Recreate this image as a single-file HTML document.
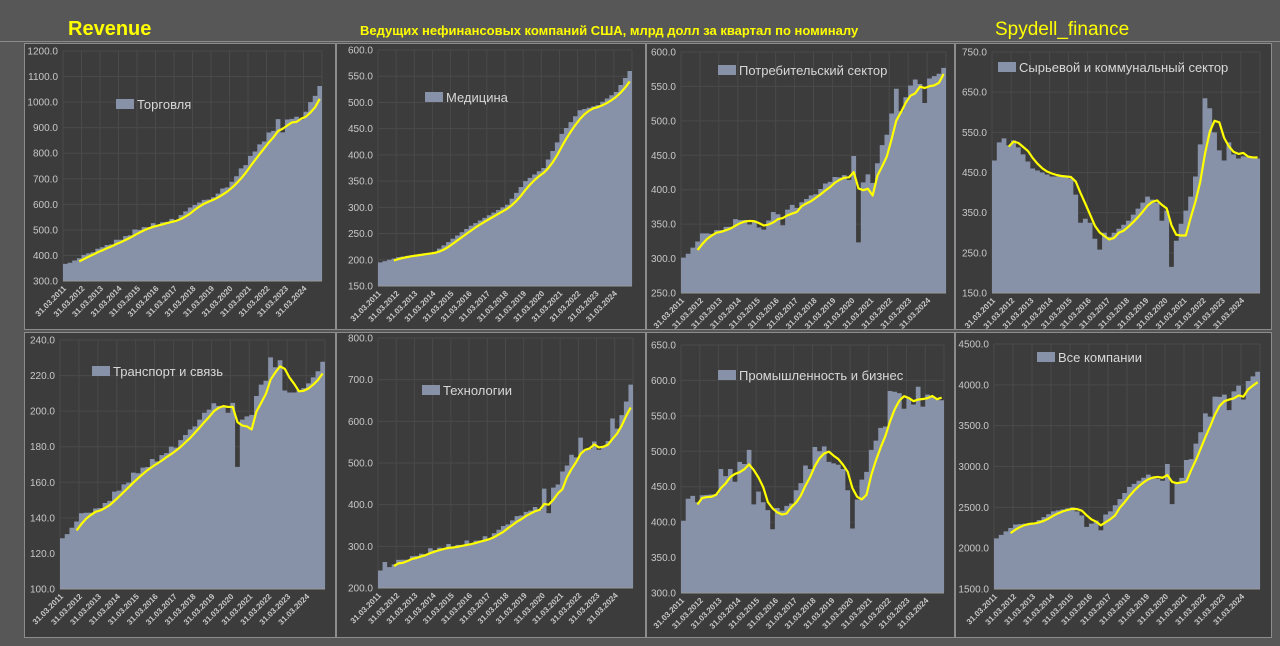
<!DOCTYPE html>
<html><head><meta charset="utf-8"><style>
html,body{margin:0;padding:0;background:#575757;width:1280px;height:646px;overflow:hidden}
svg{display:block}
</style></head><body>
<svg id="s" width="1280" height="646" xmlns="http://www.w3.org/2000/svg" font-family="'Liberation Sans','DejaVu Sans',sans-serif">
<rect width="1280" height="646" fill="#575757"/>
<line x1="0" y1="41.5" x2="1280" y2="41.5" stroke="#8a8a8a" stroke-width="1"/>
<text x="68" y="35" fill="#ffff00" font-size="20" font-weight="bold">Revenue</text>
<text x="360" y="35" fill="#ffff00" font-size="13" font-weight="bold">Ведущих нефинансовых компаний США, млрд долл за квартал по номиналу</text>
<text x="995" y="35" fill="#ffff00" font-size="19">Spydell_finance</text>
</svg>
<script>
const S=document.getElementById('s');const NS='http://www.w3.org/2000/svg';
function el(t,a,txt){const e=document.createElementNS(NS,t);for(const k in a)e.setAttribute(k,a[k]);if(txt!=null)e.textContent=txt;S.appendChild(e);return e;}
function build(pts,ov){const d=[];const idx=[0,4,8,12,16,20,24,28,32,36,40,44,48,52,55];
for(let i=0;i<56;i++){let j=0;while(j<idx.length-2&&i>idx[j+1])j++;const t=(i-idx[j])/(idx[j+1]-idx[j]);d.push(pts[j]+(pts[j+1]-pts[j])*t);}
for(const k in ov)d[k]=ov[k];return d;}
function noise(d,amp){return d.map((v,i)=>v+amp*((i%4==3)?1:(i%4==1?-0.5:0.2))*Math.sin(i*1.7+1)*1);}
const P=[
{box:[24,43,336,330],x0:63,x1:322,yt:51,yb:281,max:1200,min:300,step:100,leg:[116,104,'Торговля'],
d:noise(build([365,400,430,460,500,520,540,600,630,690,790,880,930,960,1060],{46:935,47:890,51:935,53:1000}),12)},
{box:[336,43,646,330],x0:378,x1:632,yt:50,yb:286,max:600,min:150,step:50,leg:[425,97,'Медицина'],
d:build([195,205,210,215,240,265,285,305,350,375,440,485,495,520,560],{})},
{box:[646,43,955,330],x0:681,x1:946,yt:52,yb:293,max:600,min:250,step:50,leg:[718,70,'Потребительский сектор'],
d:noise(build([300,335,340,355,345,365,375,395,420,420,420,510,550,560,575],{17:338,21:345,36:450,37:327,38:410,39:430,40:410,45:550,46:515,49:562,51:528}),8)},
{box:[955,43,1272,330],x0:992,x1:1260,yt:52,yb:293,max:750,min:150,step:100,leg:[998,67,'Сырьевой и коммунальный сектор'],
d:build([480,530,460,440,440,330,290,330,390,360,310,520,500,490,485],{1:525,2:535,16:435,17:395,18:325,19:335,20:325,21:285,22:258,35:330,36:355,37:215,38:280,40:355,41:390,42:440,43:520,44:635,45:610,46:550,47:505,48:480,49:525,50:495,51:485})},
{box:[24,332,336,638],x0:60,x1:325,yt:340,yb:589,max:240,min:100,step:20,leg:[92,371,'Транспорт и связь'],
d:noise(build([128,142,145,155,165,172,180,192,205,200,205,225,210,215,227],{36:205,37:170,38:195,39:200,40:198,42:215,43:220,44:230,45:226,46:229,48:210}),3)},
{box:[336,332,646,638],x0:378,x1:633,yt:338,yb:588,max:800,min:200,step:100,leg:[422,390,'Технологии'],
d:noise(build([240,265,275,290,295,305,320,355,385,400,480,540,530,580,685],{1:265,36:440,37:385,41:500,42:520,44:560,47:560,51:610}),12)},
{box:[646,332,955,638],x0:681,x1:944,yt:345,yb:593,max:650,min:300,step:50,leg:[718,375,'Промышленность и бизнес'],
d:build([402,438,440,475,485,445,420,450,505,485,445,510,583,570,575],{1:433,2:437,3:428,8:475,9:465,10:475,11:457,12:485,13:482,14:502,15:425,16:443,17:428,18:417,19:390,20:420,21:416,22:423,24:445,25:455,26:480,27:475,28:506,29:500,30:507,31:485,32:483,33:481,34:475,35:445,36:391,37:432,38:460,39:471,40:502,41:515,42:533,43:535,44:585,45:584,46:582,47:560,48:575,49:566,50:591,51:563,52:580,53:578,54:573,55:572})},
{box:[955,332,1272,638],x0:994,x1:1260,yt:344,yb:589,max:4500,min:1500,step:500,leg:[1037,357,'Все компании'],
d:build([2120,2290,2310,2450,2500,2300,2450,2750,2900,2800,3300,3860,3850,3990,4160],{19:2260,22:2220,36:3030,37:2540,38:2790,39:2860,40:3080,41:3090,42:3280,43:3420,44:3650,45:3610,48:3880,49:3690,51:3990,52:3820})}
];
const lab=[];for(let y=2011;y<=2024;y++)lab.push('31.03.'+y);
for(const p of P){
 const [bx,by,bx2,by2]=p.box;
 el('rect',{x:bx+0.5,y:by+0.5,width:bx2-bx-1,height:by2-by-1,fill:'#3c3c3c',stroke:'#8c8c8c','stroke-width':1});
 const Y=v=>p.yb-(v-p.min)/(p.max-p.min)*(p.yb-p.yt);
 const w=(p.x1-p.x0)/56;
 for(let i=0;i<=14;i++){const x=p.x0+i*4*w;el('line',{x1:x,y1:p.yt,x2:x,y2:p.yb,stroke:'#4a4a4a','stroke-width':1});}
 for(let v=p.min;v<=p.max+1e-6;v+=p.step){const y=Y(v);el('line',{x1:p.x0,y1:y,x2:p.x1,y2:y,stroke:'#4a4a4a','stroke-width':1});
  el('text',{x:p.x0-5,y:y+3.5,fill:'#c8c8c8','font-size':10,'text-anchor':'end'},v.toFixed(1));}
 let dp='M'+p.x0+','+p.yb;
 p.d.forEach((v,i)=>{const y=Y(v);dp+=' L'+(p.x0+i*w).toFixed(2)+','+y.toFixed(2)+' L'+(p.x0+(i+1)*w).toFixed(2)+','+y.toFixed(2);});
 dp+=' L'+p.x1+','+p.yb+'Z';
 el('path',{d:dp,fill:'#8791a8'});
 el('line',{x1:p.x0,y1:p.yb,x2:p.x1,y2:p.yb,stroke:'#9a9a9a','stroke-width':1});
 let lp='';for(let i=3;i<56;i++){const m=(p.d[i]+p.d[i-1]+p.d[i-2]+p.d[i-3])/4;lp+=(i==3?'M':' L')+(p.x0+(i+0.5)*w).toFixed(2)+','+Y(m).toFixed(2);}
 el('path',{d:lp,fill:'none',stroke:'#ffff00','stroke-width':2.2,'stroke-linejoin':'round'});
 lab.forEach((t,i)=>{const x=p.x0+(i*4+0.8)*w,y=p.yb+8;el('text',{x:x,y:y,fill:'#c8c8c8','font-size':8,'font-weight':'bold','text-anchor':'end',transform:`rotate(-45 ${x} ${y})`},t);});
 const [lx,ly,lt]=p.leg;
 el('rect',{x:lx,y:ly-5,width:18,height:10,fill:'#8791a8'});
 el('text',{x:lx+21,y:ly+5,fill:'#d8d8d8','font-size':13},lt);
}
</script>
</body></html>
